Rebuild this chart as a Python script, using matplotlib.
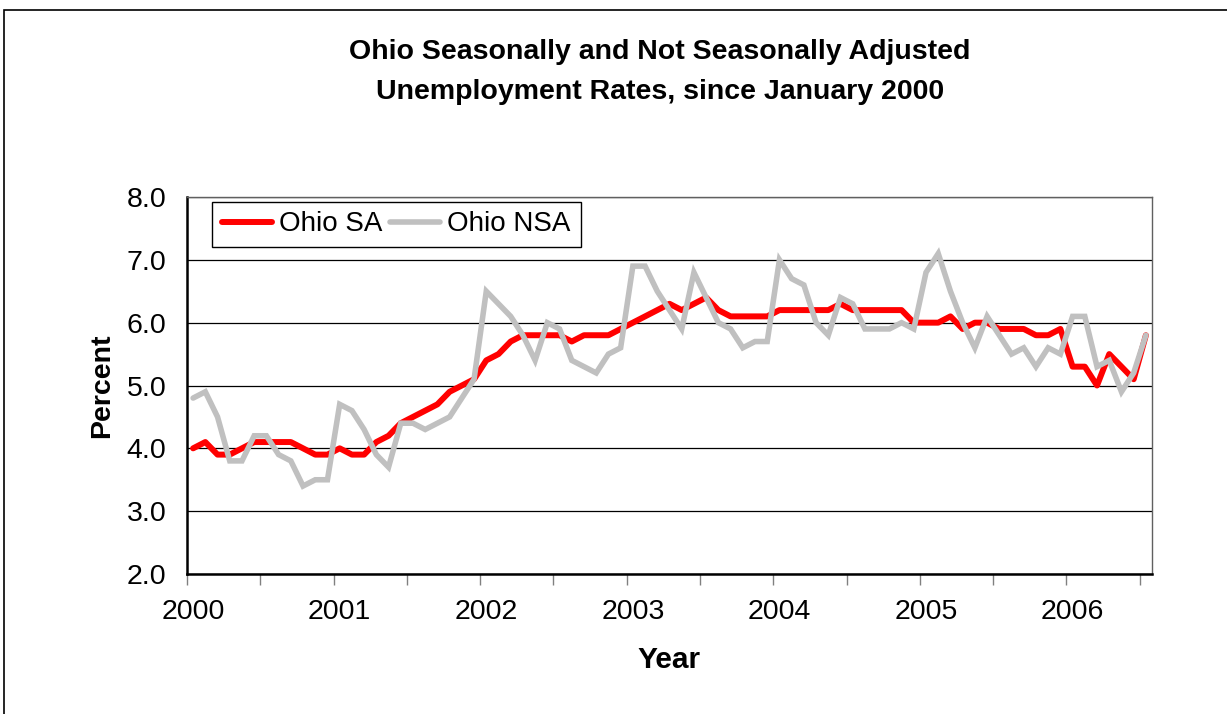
import numpy as np
import matplotlib
matplotlib.use("Agg")
import matplotlib.pyplot as plt
from matplotlib.patches import Rectangle

plt.rcParams['font.family'] = ['Liberation Sans', 'DejaVu Sans']

# monthly rates, Jan 2000 - Jul 2006
years = ['2000', '2001', '2002', '2003', '2004', '2005', '2006']
ohio_sa = [4.0, 4.1, 3.9, 3.9, 4.0, 4.1, 4.1, 4.1, 4.1, 4.0, 3.9, 3.9,
           4.0, 3.9, 3.9, 4.1, 4.2, 4.4, 4.5, 4.6, 4.7, 4.9, 5.0, 5.1,
           5.4, 5.5, 5.7, 5.8, 5.8, 5.8, 5.8, 5.7, 5.8, 5.8, 5.8, 5.9,
           6.0, 6.1, 6.2, 6.3, 6.2, 6.3, 6.4, 6.2, 6.1, 6.1, 6.1, 6.1,
           6.2, 6.2, 6.2, 6.2, 6.2, 6.3, 6.2, 6.2, 6.2, 6.2, 6.2, 6.0,
           6.0, 6.0, 6.1, 5.9, 6.0, 6.0, 5.9, 5.9, 5.9, 5.8, 5.8, 5.9,
           5.3, 5.3, 5.0, 5.5, 5.3, 5.1, 5.8]
ohio_nsa = [4.8, 4.9, 4.5, 3.8, 3.8, 4.2, 4.2, 3.9, 3.8, 3.4, 3.5, 3.5,
            4.7, 4.6, 4.3, 3.9, 3.7, 4.4, 4.4, 4.3, 4.4, 4.5, 4.8, 5.1,
            6.5, 6.3, 6.1, 5.8, 5.4, 6.0, 5.9, 5.4, 5.3, 5.2, 5.5, 5.6,
            6.9, 6.9, 6.5, 6.2, 5.9, 6.8, 6.4, 6.0, 5.9, 5.6, 5.7, 5.7,
            7.0, 6.7, 6.6, 6.0, 5.8, 6.4, 6.3, 5.9, 5.9, 5.9, 6.0, 5.9,
            6.8, 7.1, 6.5, 6.0, 5.6, 6.1, 5.8, 5.5, 5.6, 5.3, 5.6, 5.5,
            6.1, 6.1, 5.3, 5.4, 4.9, 5.2, 5.8]
y_ticks = [2.0, 3.0, 4.0, 5.0, 6.0, 7.0, 8.0]

W, H = 1227, 714
fig = plt.figure(figsize=(W / 100, H / 100), dpi=100)

# outer chart border (cropped at right and bottom)
fig.patches.append(Rectangle((4 / W, -0.05), 1.1, 1.05 - 10 / H,
                             transform=fig.transFigure, fill=False,
                             edgecolor='black', lw=1.2))

ax = fig.add_axes([187 / W, 1 - 574 / H, 965 / W, 377 / H])

months = np.arange(len(ohio_sa)) + 0.5
ax.plot(months, ohio_sa, color='#FF0000', lw=4.3, label='Ohio SA',
        solid_joinstyle='round', solid_capstyle='round')
ax.plot(months, ohio_nsa, color='#C0C0C0', lw=4.0, label='Ohio NSA',
        solid_joinstyle='miter', solid_capstyle='round')

ax.set_xlim(0, len(ohio_sa))
ax.set_ylim(2, 8)
ax.set_yticks(y_ticks)
ax.set_yticklabels(['%.1f' % v for v in y_ticks])
ax.yaxis.grid(True, color='black', lw=0.9)
ax.set_axisbelow(True)

ax.set_xticks(np.arange(0, len(ohio_sa), 6))
ax.set_xticks(np.arange(len(years)) * 12 + 0.5, minor=True)
ax.set_xticklabels(years, minor=True)
ax.tick_params(axis='x', which='major', direction='out', length=8,
               width=1, color='#808080', labelbottom=False)
ax.tick_params(axis='x', which='minor', length=0, labelsize=20.5, pad=18)
ax.tick_params(axis='y', length=0, labelsize=20.5, pad=15)

for s in ['left', 'bottom']:
    ax.spines[s].set_linewidth(1.8)
    ax.spines[s].set_color('black')
for s in ['top', 'right']:
    ax.spines[s].set_linewidth(1.0)
    ax.spines[s].set_color('#606060')

ax.set_ylabel('Percent', fontsize=20.5, fontweight='bold', labelpad=8)
ax.set_xlabel('Year', fontsize=21.5, fontweight='bold', labelpad=15)

leg = ax.legend(loc='upper left', bbox_to_anchor=(0.026, 0.988), ncol=2,
                fontsize=20, frameon=True, fancybox=False, framealpha=1,
                edgecolor='black', handlelength=1.8, handletextpad=0.25,
                columnspacing=0.3, borderpad=0.35, borderaxespad=0)
leg.get_frame().set_linewidth(1.0)

title_lines = ['Ohio Seasonally and Not Seasonally Adjusted',
               'Unemployment Rates, since January 2000']
for line, ypix in zip(title_lines, [52, 92]):
    fig.text(660 / W, 1 - ypix / H, line, ha='center', va='center',
             fontsize=20.5, fontweight='bold')

fig.savefig('out.png', dpi=100)
